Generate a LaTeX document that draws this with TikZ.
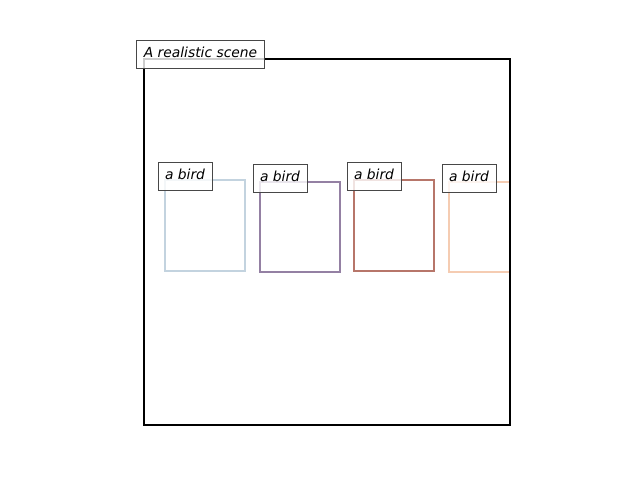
\documentclass[tikz,border=0pt]{standalone}
\usepackage{fontspec}
\setmainfont{DejaVu Sans}
\definecolor{birdone}{RGB}{195,211,223}
\definecolor{birdtwo}{RGB}{148,128,163}
\definecolor{birdthree}{RGB}{183,118,106}
\definecolor{birdfour}{RGB}{245,204,178}
\begin{document}
\begin{tikzpicture}[x=0.01in, y=-0.01in,
  tag/.style={draw=black!72, fill=white, fill opacity=0.8, text opacity=1,
    line width=0.7pt, inner xsep=7\pgflinewidth, inner xsep=0.07in, inner ysep=0pt,
    minimum height=0.28in, text height=0.76em, text depth=0.22em,
    font=\itshape\fontsize{10}{12}\selectfont},
  bird/.style={line width=1.5pt}]
\useasboundingbox (0,0) rectangle (640,480);

\begin{scope}
\clip (144,59) rectangle (510,425);
\draw[bird, draw=birdone] (165,180) rectangle (245,271);
\draw[bird, draw=birdtwo] (260,182) rectangle (340,272);
\draw[bird, draw=birdthree] (354,180) rectangle (434,271);
\draw[bird, draw=birdfour] (449,182) rectangle (511,272);
\end{scope}

\draw[line width=1.5pt] (144,59) rectangle (510,425);

\node[tag] at (200.5,54) (scene) {A realistic scene};
\node[tag] at (185,176) (birdA) {a bird};
\node[tag] at (280,178) (birdB) {a bird};
\node[tag] at (374,176) (birdC) {a bird};
\node[tag] at (469,178) (birdD) {a bird};

\end{tikzpicture}
\end{document}
